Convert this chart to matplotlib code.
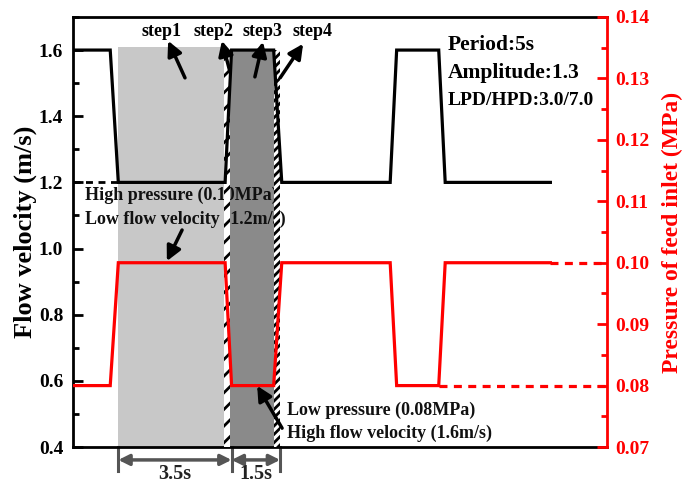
import matplotlib
matplotlib.use("Agg")
import matplotlib.pyplot as plt
from matplotlib.patches import Rectangle
from matplotlib.ticker import MultipleLocator

plt.rcParams['font.family'] = ['Liberation Serif', 'DejaVu Serif']
plt.rcParams['font.weight'] = 'bold'
plt.rcParams['hatch.linewidth'] = 2.0

# ---- data ----
time = [0, 1.15, 1.4, 4.7, 4.9, 6.2, 6.45, 9.8, 10.0, 11.3, 11.5, 14.75]
velocity = [1.6, 1.6, 1.2, 1.2, 1.6, 1.6, 1.2, 1.2, 1.6, 1.6, 1.2, 1.2]
pressure = [0.08, 0.08, 0.10, 0.10, 0.08, 0.08, 0.10, 0.10, 0.08, 0.08, 0.10, 0.10]
vel_dash_t = [0, 1.4]
vel_dash_v = [1.2, 1.2]
p_high_dash_t = [14.75, 16.5]
p_high_dash_v = [0.10, 0.10]
p_low_dash_t = [11.3, 16.5]
p_low_dash_v = [0.08, 0.08]
step1_span = (1.4, 4.65)
step2_span = (4.65, 4.85)
step3_span = (4.85, 6.2)
step4_span = (6.2, 6.4)
dim_marks = [1.4, 4.9, 6.4]
dim_labels = ["3.5s", "1.5s"]
left_ticks = [0.4, 0.6, 0.8, 1.0, 1.2, 1.4, 1.6]
right_ticks = [0.07, 0.08, 0.09, 0.10, 0.11, 0.12, 0.13, 0.14]

fig = plt.figure(figsize=(6.92, 4.84), dpi=100)
ax = fig.add_axes([0.1055, 0.0764, 0.7717, 0.8885])
ax2 = ax.twinx()

ax.set_xlim(0, 16.5)
ax.set_ylim(0.4, 1.7)
ax2.set_ylim(0.07, 0.14)

# shaded regions
ax.fill_between(step1_span, 0.4, 1.61, color='#c8c8c8', lw=0, zorder=0)
ax.fill_between(step3_span, 0.4, 1.6, color='#8a8a8a', lw=0, zorder=0)

# texts on left axis
tkw = dict(fontsize=13, fontweight='bold', color='#111111', zorder=5)
ax.text(0.37, 1.162, "High pressure (0.10MPa)", va='center', ha='left', **tkw)
ax.text(0.37, 1.089, "Low flow velocity (1.2m/s)", va='center', ha='left', **tkw)
ax.text(6.61, 0.512, "Low pressure (0.08MPa)", va='center', ha='left', **tkw)
ax.text(6.61, 0.442, "High flow velocity (1.6m/s)", va='center', ha='left', **tkw)
for lab, xx in zip(["step1", "step2", "step3", "step4"], [2.72, 4.33, 5.84, 7.39]):
    ax.text(xx, 1.655, lab, ha='center', va='center', fontsize=13, fontweight='bold', zorder=5)
ax.text(11.59, 1.615, "Period:5s", ha='left', va='center', fontsize=15.5, fontweight='bold')
ax.text(11.59, 1.531, "Amplitude:1.3", ha='left', va='center', fontsize=15.5, fontweight='bold')
ax.text(11.59, 1.449, "LPD/HPD:3.0/7.0", ha='left', va='center', fontsize=14, fontweight='bold')

# hatched strips (on top of texts)
for span, h in [(step2_span, '//'), (step4_span, '////')]:
    ax2.add_patch(Rectangle((span[0], 0.07), span[1] - span[0], 0.07 * (1.2 / 1.3),
                            facecolor='white', edgecolor='black', hatch=h, lw=0, zorder=1))

# lines
ax2.plot(time, velocity, color='black', lw=2.3, transform=ax.transData, zorder=3,
         solid_joinstyle='miter')
ax2.plot(vel_dash_t, vel_dash_v, color='black', lw=2.0, ls=(0, (2.5, 2)),
         transform=ax.transData, zorder=3)
ax2.plot(time, pressure, color='#ff0000', lw=2.3, zorder=3, solid_joinstyle='miter')
ax2.plot(p_high_dash_t, p_high_dash_v, color='#ff0000', lw=2.3, ls=(0, (2.5, 2)), zorder=3)
ax2.plot(p_low_dash_t, p_low_dash_v, color='#ff0000', lw=2.3, ls=(0, (2.5, 2)), zorder=3)

# arrows
akw = dict(arrowstyle='-|>', color='black', lw=2.5, mutation_scale=22, shrinkA=0, shrinkB=0)
arrows = [((3.46, 1.516), (2.94, 1.628)),
          ((4.85, 1.534), (4.60, 1.628)),
          ((5.62, 1.519), (5.87, 1.625)),
          ((6.40, 1.516), (7.11, 1.619)),
          ((3.37, 1.056), (2.90, 0.962)),
          ((6.46, 0.457), (5.69, 0.585))]
for start, end in arrows:
    ax2.annotate('', xy=end, xytext=start, xycoords=ax.transData, textcoords=ax.transData,
                 arrowprops=akw, zorder=4)

# dimension marks below axis
trans = ax.get_xaxis_transform()
for xm in dim_marks:
    ax.plot([xm, xm], [0, -0.055], transform=trans, color='#555555', lw=2.2, clip_on=False)
dkw = dict(arrowstyle='<|-|>', color='#555555', lw=2.5, mutation_scale=16, shrinkA=0, shrinkB=0)
for (a, b), lab in zip(zip(dim_marks[:-1], dim_marks[1:]), dim_labels):
    ax.annotate('', xy=(a, -0.030), xytext=(b, -0.030), xycoords=trans, textcoords=trans,
                arrowprops=dkw, annotation_clip=False)
    ax.text((a + b) / 2, -0.0745, lab, transform=trans, ha='center', va='baseline',
            fontsize=14.5, fontweight='bold', color='#222222', clip_on=False)

# axes styling
ax.set_xticks([])
ax.set_yticks(left_ticks)
ax.yaxis.set_minor_locator(MultipleLocator(0.1))
ax.set_yticklabels([f"{v:.1f}" for v in left_ticks])
ax.tick_params(axis='y', which='major', direction='in', length=7, width=2, labelsize=14, pad=7)
ax.tick_params(axis='y', which='minor', direction='in', length=4, width=2)
ax.set_ylabel("Flow velocity (m/s)", fontsize=19, fontweight='bold', labelpad=1)

ax2.set_yticks(right_ticks)
ax2.yaxis.set_minor_locator(MultipleLocator(0.005))
ax2.set_yticklabels([f"{v:.2f}" for v in right_ticks])
ax2.tick_params(axis='y', which='major', direction='in', length=7, width=2, labelsize=14,
                colors='#ff0000', pad=6)
ax2.tick_params(axis='y', which='minor', direction='in', length=4, width=2, colors='#ff0000')
ax2.set_ylabel("Pressure of feed inlet (MPa)", fontsize=17, fontweight='bold', color='#ff0000',
               labelpad=9)

for s in ['left', 'top', 'bottom']:
    ax.spines[s].set_linewidth(2)
ax.spines['right'].set_visible(False)
ax2.spines['left'].set_visible(False)
ax2.spines['top'].set_visible(False)
ax2.spines['bottom'].set_visible(False)
ax2.spines['right'].set_color('#ff0000')
ax2.spines['right'].set_linewidth(2)

fig.savefig("out.png", dpi=100)
